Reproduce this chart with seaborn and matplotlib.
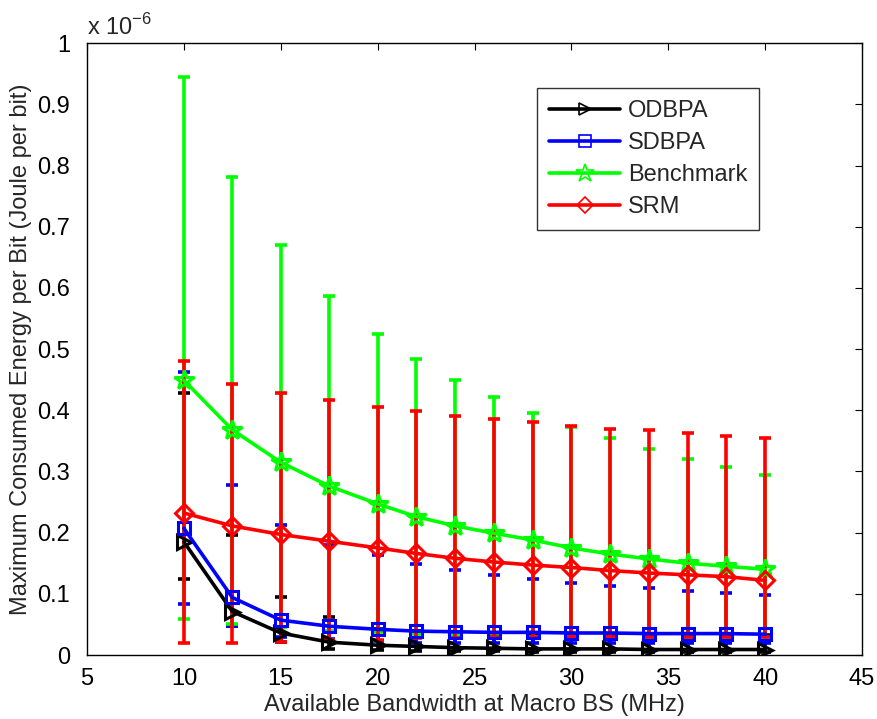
import matplotlib
matplotlib.use("Agg")
import matplotlib.pyplot as plt
import seaborn as sns
import pandas as pd

# Available bandwidth at the macro BS (MHz)
bandwidth = [10, 12.5, 15, 17.5, 20, 22, 24, 26, 28, 30, 32, 34, 36, 38, 40]

# Maximum consumed energy per bit, in units of 1e-6 Joule per bit
odbpa_mean = [0.185, 0.071, 0.036, 0.021, 0.016, 0.014, 0.012, 0.011, 0.010, 0.010, 0.010, 0.009, 0.009, 0.009, 0.009]
odbpa_low  = [0.125, 0.048, 0.022, 0.010, 0.008, 0.007, 0.006, 0.006, 0.005, 0.005, 0.005, 0.005, 0.005, 0.005, 0.005]
odbpa_high = [0.428, 0.196, 0.094, 0.062, 0.042, 0.039, 0.037, 0.036, 0.035, 0.034, 0.034, 0.033, 0.033, 0.032, 0.032]

sdbpa_mean = [0.207, 0.094, 0.057, 0.047, 0.042, 0.039, 0.038, 0.037, 0.037, 0.036, 0.036, 0.035, 0.035, 0.035, 0.034]
sdbpa_low  = [0.083, 0.048, 0.030, 0.026, 0.023, 0.020, 0.020, 0.020, 0.020, 0.020, 0.020, 0.020, 0.020, 0.019, 0.019]
sdbpa_high = [0.463, 0.278, 0.212, 0.180, 0.163, 0.148, 0.139, 0.131, 0.124, 0.118, 0.113, 0.109, 0.105, 0.101, 0.098]

bench_mean = [0.449, 0.368, 0.315, 0.276, 0.247, 0.226, 0.211, 0.199, 0.188, 0.175, 0.165, 0.157, 0.150, 0.145, 0.140]
bench_low  = [0.059, 0.050, 0.045, 0.040, 0.037, 0.034, 0.032, 0.031, 0.030, 0.029, 0.028, 0.027, 0.026, 0.025, 0.024]
bench_high = [0.945, 0.781, 0.670, 0.587, 0.525, 0.484, 0.450, 0.421, 0.396, 0.373, 0.355, 0.337, 0.321, 0.308, 0.295]

srm_mean = [0.232, 0.211, 0.197, 0.186, 0.175, 0.166, 0.158, 0.152, 0.147, 0.143, 0.138, 0.134, 0.131, 0.128, 0.122]
srm_low  = [0.019, 0.020, 0.022, 0.024, 0.025, 0.027, 0.028, 0.029, 0.029, 0.029, 0.029, 0.029, 0.029, 0.029, 0.029]
srm_high = [0.481, 0.443, 0.429, 0.417, 0.406, 0.399, 0.391, 0.386, 0.380, 0.375, 0.370, 0.367, 0.363, 0.358, 0.355]

series_names = ["ODBPA", "SDBPA", "Benchmark", "SRM"]
series_colors = ["#000000", "#0000ff", "#00ff00", "#ff0000"]
series_markers = [">", "s", "*", "D"]
series_sizes = [10, 9, 15, 9]

means = [odbpa_mean, sdbpa_mean, bench_mean, srm_mean]
lows = [odbpa_low, sdbpa_low, bench_low, srm_low]
highs = [odbpa_high, sdbpa_high, bench_high, srm_high]

sns.set_style("white")
plt.rcParams["font.family"] = ["Liberation Sans", "DejaVu Sans"]
plt.rcParams["mathtext.fontset"] = "custom"
plt.rcParams["mathtext.rm"] = "Liberation Sans"

FS = 17

fig = plt.figure(figsize=(8.77, 7.19), dpi=100)
ax = fig.add_axes([0.0992, 0.089, 0.8838, 0.851])

for name, col, mk, ms, m, lo, hi in zip(series_names, series_colors, series_markers,
                                         series_sizes, means, lows, highs):
    df = pd.DataFrame({"bw": bandwidth, "energy": m})
    yerr = [[mv - lv for mv, lv in zip(m, lo)], [hv - mv for mv, hv in zip(m, hi)]]
    ax.errorbar(df["bw"], df["energy"], yerr=yerr, fmt="none", ecolor=col,
                elinewidth=2.6, capsize=4, capthick=2.6, zorder=2)
    sns.lineplot(data=df, x="bw", y="energy", ax=ax, color=col, linewidth=2.6,
                 marker=mk, markersize=ms, markerfacecolor="none",
                 markeredgecolor=col, markeredgewidth=2.2, label=name, zorder=3)

ax.set_xlim(5, 45)
ax.set_ylim(0, 1)
ax.set_xticks(range(5, 46, 5))
ax.set_yticks([i / 10 for i in range(11)])
ax.set_yticklabels(["0"] + [f"{i / 10:g}" for i in range(1, 10)] + ["1"])
ax.tick_params(axis="both", direction="in", length=5, width=0.8, top=True, right=True,
               labelsize=FS, colors="black")
ax.tick_params(axis="y", pad=12)
ax.tick_params(axis="x", pad=9)
for sp in ax.spines.values():
    sp.set_visible(True)
    sp.set_color("black")
    sp.set_linewidth(1.0)

ax.set_xlabel("Available Bandwidth at Macro BS (MHz)", fontsize=FS, labelpad=3)
ax.set_ylabel("Maximum Consumed Energy per Bit (Joule per bit)", fontsize=FS, labelpad=4)
ax.text(0.0, 1.006, r"x 10$^{-6}$", transform=ax.transAxes, fontsize=FS,
        ha="left", va="bottom")

leg = ax.legend(loc="upper left", bbox_to_anchor=(0.581, 0.926), fontsize=FS,
                frameon=True, fancybox=False, edgecolor="black", borderpad=0.5,
                handlelength=3.0, labelspacing=0.42, handletextpad=0.35,
                borderaxespad=0.0)
leg.get_frame().set_linewidth(1.0)
for h in leg.get_lines():
    h.set_markeredgewidth(1.2)
    h.set_markersize(h.get_markersize() * 0.9)

fig.savefig("out.png", dpi=100, facecolor="white")
